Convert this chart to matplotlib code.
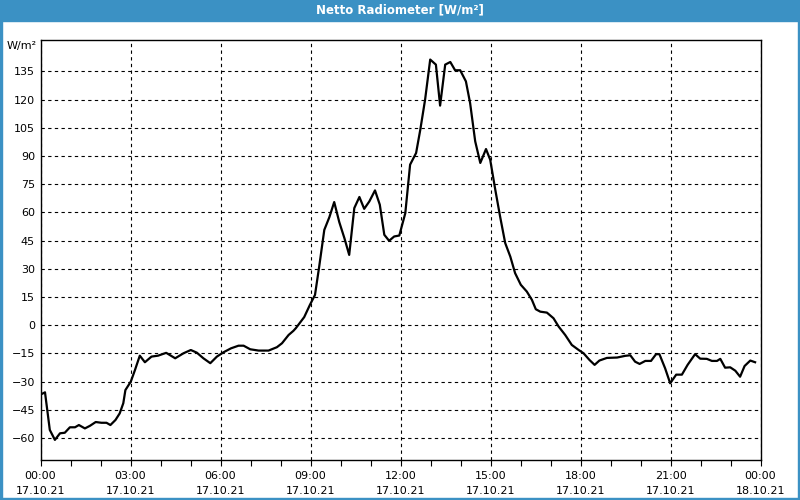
import matplotlib.pyplot as plt
from matplotlib.patches import Rectangle

# Netto radiometer readings, 17.10.21 (hours since midnight, W/m²)
HOURS = [0.04, 0.15, 0.31, 0.48, 0.65, 0.81, 0.98, 1.15, 1.28, 1.48, 1.65, 1.84,
         2.03, 2.2, 2.33, 2.5, 2.64, 2.76, 2.83, 3.01, 3.15, 3.31, 3.48, 3.7,
         3.92, 4.19, 4.49, 4.77, 5.01, 5.21, 5.43, 5.66, 5.88, 6.1, 6.35, 6.6,
         6.77, 6.99, 7.27, 7.6, 7.88, 8.05, 8.27, 8.43, 8.51, 8.79, 8.98, 9.15,
         9.29, 9.46, 9.63, 9.79, 9.96, 10.13, 10.29, 10.46, 10.63, 10.79, 10.96,
         11.15, 11.31, 11.46, 11.62, 11.79, 11.96, 12.16, 12.32, 12.52, 12.66,
         12.82, 12.99, 13.18, 13.32, 13.49, 13.66, 13.82, 13.99, 14.18, 14.32,
         14.49, 14.66, 14.85, 14.99, 15.16, 15.32, 15.49, 15.66, 15.82, 16.01,
         16.21, 16.38, 16.51, 16.66, 16.88, 17.1, 17.27, 17.49, 17.71, 17.94,
         18.1, 18.3, 18.47, 18.63, 18.88, 19.22, 19.49, 19.66, 19.82, 19.97,
         20.16, 20.35, 20.52, 20.63, 20.82, 20.99, 21.19, 21.38, 21.57, 21.82,
         21.99, 22.21, 22.38, 22.55, 22.66, 22.82, 22.99, 23.16, 23.32, 23.47,
         23.66, 23.82]
VALUES = [-36.6, -35.7, -55.7, -61.0, -57.5, -57.2, -54.3, -54.3, -53.1, -54.9,
          -53.5, -51.5, -51.9, -51.9, -53.1, -50.4, -46.9, -41.5, -34.5, -30.0,
          -23.8, -16.2, -19.7, -16.7, -16.2, -14.7, -17.6, -14.9, -13.2, -14.6,
          -17.6, -20.2, -16.7, -14.4, -12.3, -10.9, -10.9, -12.8, -13.5, -13.5,
          -11.7, -9.6, -5.2, -3.0, -1.6, 4.3, 10.8, 16.1, 31.2, 50.7, 57.5, 65.5,
          54.8, 46.3, 37.4, 62.3, 68.2, 61.9, 65.8, 71.7, 64.1, 48.1, 44.9, 47.2,
          47.7, 59.6, 85.4, 91.6, 104.0, 120.0, 141.3, 138.6, 116.8, 138.6,
          140.0, 135.6, 135.6, 129.7, 118.2, 97.8, 86.3, 93.7, 88.0, 72.0, 57.8,
          43.7, 36.5, 27.7, 21.5, 17.9, 13.5, 8.5, 7.2, 6.7, 3.7, -0.7, -5.2,
          -10.5, -13.2, -14.9, -18.5, -21.1, -18.8, -17.4, -17.2, -16.3, -16.0,
          -19.4, -20.6, -19.0, -19.0, -15.4, -15.4, -22.9, -30.9, -26.3, -26.3,
          -21.1, -15.4, -17.8, -17.9, -19.0, -19.0, -17.9, -22.6, -22.4, -24.2,
          -27.4, -21.7, -18.8, -19.7]

Y_TICKS = [-60, -45, -30, -15, 0, 15, 30, 45, 60, 75, 90, 105, 120, 135]
X_TICKS = [0, 3, 6, 9, 12, 15, 18, 21, 24]
X_LABELS = ["00:00\n17.10.21", "03:00\n17.10.21", "06:00\n17.10.21",
            "09:00\n17.10.21", "12:00\n17.10.21", "15:00\n17.10.21",
            "18:00\n17.10.21", "21:00\n17.10.21", "00:00\n18.10.21"]

BAR_BLUE = "#3b91c4"

plt.rcParams.update({"font.family": "DejaVu Sans", "font.size": 8})

fig = plt.figure(figsize=(8, 5), dpi=100)
fig.patch.set_facecolor("white")

# title bar and window frame
fig.patches.append(Rectangle((0, 1 - 21 / 500), 1, 21 / 500, transform=fig.transFigure,
                             color=BAR_BLUE, zorder=0))
for x0, y0, w, h in [(0, 0, 2 / 800, 1), (1 - 2 / 800, 0, 2 / 800, 1), (0, 0, 1, 2 / 500)]:
    fig.patches.append(Rectangle((x0, y0), w, h, transform=fig.transFigure,
                                 color=BAR_BLUE, zorder=0))
fig.text(0.5, 1 - 10 / 500, "Netto Radiometer [W/m²]", ha="center", va="center",
         color="white", fontsize=8.5, fontweight="bold")

ax = fig.add_axes([40.5 / 800, 40 / 500, 720 / 800, 420 / 500])
ax.plot(HOURS, VALUES, color="black", linewidth=1.6, zorder=3)

ax.set_xlim(0, 24)
ax.set_ylim(-71.7, 151.7)
ax.set_yticks(Y_TICKS)
ax.set_xticks(X_TICKS)
ax.set_xticklabels(X_LABELS, linespacing=1.6)
ax.set_xticks(range(25), minor=True)
ax.tick_params(axis="y", length=0, pad=4)
ax.tick_params(axis="x", which="both", direction="out", length=4, width=0.8, pad=4)

ax.grid(True, which="major", color="black", linestyle=(0, (3, 3)), linewidth=0.8)
for s in ax.spines.values():
    s.set_linewidth(1.0)

ax.text(-4 / 720, 1 - 6 / 420, "W/m²", transform=ax.transAxes, ha="right", va="center")

fig.savefig("out.png", dpi=100)
